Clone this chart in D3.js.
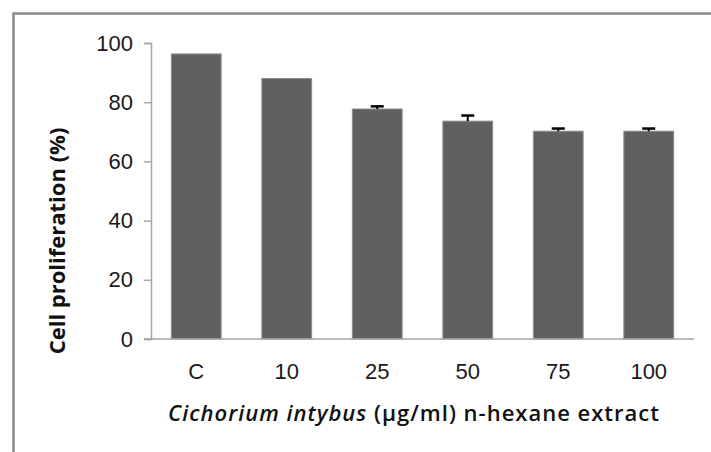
<!DOCTYPE html>
<html>
<head>
<meta charset="utf-8">
<script src="https://cdn.jsdelivr.net/npm/d3@7"></script>
<style>
  body { margin: 0; background: #fff; }
  svg { display: block; font-family: "Open Sans", "Noto Sans", sans-serif; }
</style>
</head>
<body>
<svg></svg>
<script>
let doses = ["C", "10", "25", "50", "75", "100"];
let proliferation = [96.3, 88.0, 77.7, 73.6, 70.2, 70.2];
let errors = [0, 0, 0.9, 1.9, 0.9, 0.9];
let yTicks = [0, 20, 40, 60, 80, 100];

let width = 711;
let height = 452;

let svg = d3.select("svg").attr("width", width).attr("height", height);

// outer frame, cut off at right and bottom like the source picture
svg
  .append("path")
  .attr("d", `M13.5,${height + 5} V13.5 H${width + 5}`)
  .style("fill", "none")
  .style("stroke", "#888")
  .style("stroke-width", 2.5);

let x = d3.scaleBand().domain(doses).range([151, 694]).paddingInner(0.45).paddingOuter(0.225);
let y = d3.scaleLinear().domain([0, 100]).range([339, 43]);

let axisColor = "#a6a6a6";

// y axis
let yAxis = svg
  .append("g")
  .attr("transform", "translate(151,0)")
  .call(d3.axisLeft(y).tickValues(yTicks).tickSize(7).tickPadding(11));
yAxis.select(".domain").attr("stroke", axisColor).attr("stroke-width", 1.5);
yAxis.selectAll(".tick line").attr("stroke", axisColor).attr("stroke-width", 1.5);
yAxis.selectAll(".tick text").style("font-size", "22px").attr("fill", "#1a1a1a");

// bars
svg
  .append("g")
  .selectAll(".bar")
  .data(doses)
  .join("rect")
  .attr("class", "bar")
  .attr("x", (d) => x(d))
  .attr("width", x.bandwidth())
  .attr("y", (d, i) => y(proliferation[i]))
  .attr("height", (d, i) => y(0) - y(proliferation[i]))
  .style("fill", "#606060")
  .style("stroke", "#8c8c8c")
  .style("stroke-width", 1);

// error bars (upper only)
let errG = svg
  .append("g")
  .selectAll(".err")
  .data(doses.filter((d, i) => errors[i] > 0))
  .join("g")
  .attr("class", "err");

errG
  .append("line")
  .attr("x1", (d) => x(d) + x.bandwidth() / 2)
  .attr("x2", (d) => x(d) + x.bandwidth() / 2)
  .attr("y1", (d) => y(proliferation[doses.indexOf(d)]))
  .attr("y2", (d) => y(proliferation[doses.indexOf(d)] + errors[doses.indexOf(d)]))
  .style("stroke", "#000")
  .style("stroke-width", 2);

errG
  .append("line")
  .attr("x1", (d) => x(d) + x.bandwidth() / 2 - 6.5)
  .attr("x2", (d) => x(d) + x.bandwidth() / 2 + 6.5)
  .attr("y1", (d) => y(proliferation[doses.indexOf(d)] + errors[doses.indexOf(d)]))
  .attr("y2", (d) => y(proliferation[doses.indexOf(d)] + errors[doses.indexOf(d)]))
  .style("stroke", "#000")
  .style("stroke-width", 2.5);

// x axis
let xAxis = svg
  .append("g")
  .attr("transform", "translate(0,339)")
  .call(d3.axisBottom(x).tickSize(0).tickPadding(24));
xAxis.select(".domain").attr("d", "M144,0H694").attr("stroke", axisColor).attr("stroke-width", 1.5);
xAxis.selectAll(".tick text").style("font-size", "22px").attr("fill", "#1a1a1a");

// axis titles
svg
  .append("text")
  .attr("transform", "translate(65,241) rotate(-90)")
  .attr("text-anchor", "middle")
  .style("font-size", "22px")
  .style("font-weight", "bold")
  .attr("fill", "#111")
  .text("Cell proliferation (%)");

let xTitle = svg
  .append("text")
  .attr("x", 414)
  .attr("y", 421)
  .attr("text-anchor", "middle")
  .style("font-size", "22px")
  .style("font-weight", "600")
  .style("letter-spacing", "1px")
  .attr("fill", "#111");
xTitle.append("tspan").style("font-style", "italic").text("Cichorium intybus");
xTitle.append("tspan").text(" (µg/ml) n-hexane extract");
</script>
</body>
</html>
